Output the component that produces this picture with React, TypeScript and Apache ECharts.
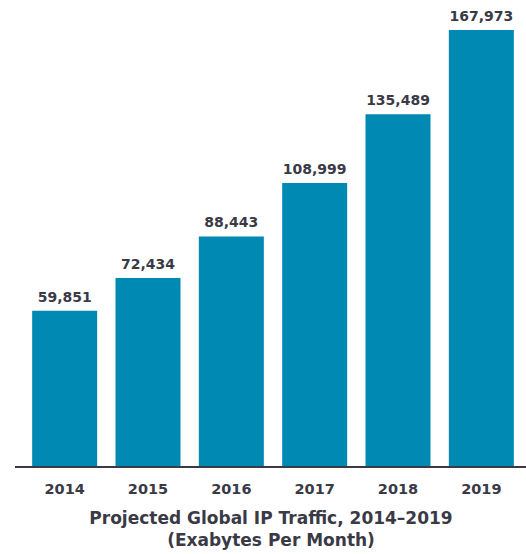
import React, { useEffect, useRef } from "react";
import * as echarts from "echarts";

const years = ["2014", "2015", "2016", "2017", "2018", "2019"];
const traffic = [59851, 72434, 88443, 108999, 135489, 167973];
const titleLines = ["Projected Global IP Traffic, 2014\u20132019", "(Exabytes Per Month)"];

const TEXT = "#3a3a46";
const BAR = "#0089b2";
const FONT = "DejaVu Sans, Liberation Sans, Arial, sans-serif";

export default function App() {
  const ref = useRef<HTMLDivElement>(null);
  useEffect(() => {
    if (!ref.current) return;
    const chart = echarts.init(ref.current, undefined, { renderer: "svg" });
    chart.setOption({
      animation: false,
      grid: { left: 23, width: 500, top: 30, height: 436, containLabel: false },
      xAxis: {
        type: "category",
        data: years,
        axisLine: { show: false },
        axisTick: { show: false },
        axisLabel: {
          color: TEXT,
          fontFamily: FONT,
          fontWeight: "bold",
          fontSize: 14.5,
          margin: 15,
        },
      },
      yAxis: {
        type: "value",
        min: 0,
        max: 167973,
        show: false,
        splitLine: { show: false },
      },
      series: [
        {
          type: "bar",
          data: traffic,
          barCategoryGap: "22%",
          itemStyle: { color: BAR },
          label: {
            show: true,
            position: "top",
            distance: 7,
            color: TEXT,
            fontFamily: FONT,
            fontWeight: "bold",
            fontSize: 14,
            formatter: (p: any) => Number(p.value).toLocaleString("en-US"),
          },
        },
      ],
      graphic: [
        {
          type: "line",
          shape: { x1: 15, y1: 467, x2: 526, y2: 467 },
          style: { stroke: TEXT, lineWidth: 2 },
        },
        {
          type: "text",
          x: 271,
          y: 507,
          style: {
            text: titleLines.join("\n"),
            textAlign: "center",
            fill: TEXT,
            fontFamily: FONT,
            fontWeight: "bold",
            fontSize: 17,
            lineHeight: 22,
          },
        },
      ],
    });
    return () => chart.dispose();
  }, []);
  return <div ref={ref} style={{ width: 526, height: 554, position: "absolute", left: 0, top: 0 }} />;
}
